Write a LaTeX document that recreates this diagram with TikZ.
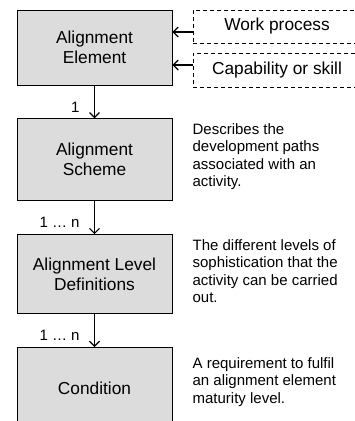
\documentclass[tikz,border=0pt]{standalone}
\usepackage{fontspec}
\setmainfont{Liberation Sans}
\usetikzlibrary{positioning,arrows.meta}
\definecolor{boxgray}{RGB}{220,220,220}

\begin{document}
\begin{tikzpicture}[x=1pt,y=-1pt,node distance=33pt,
  font=\fontsize{15}{17.5}\selectfont,
  main node/.style={rectangle,fill=boxgray,draw,minimum width=155pt,align=center,
    line width=0.8pt,font=\fontsize{17.3}{20}\selectfont},
  input node/.style={rectangle,draw,dash pattern=on 4pt off 3pt,minimum width=176pt,
    line width=0.8pt,font=\fontsize{17.3}{20}\selectfont},
  note/.style={align=left,inner sep=0pt},
  link/.style={-{Straight Barb[length=5pt,width=10pt]},line width=1.2pt}]

  \clip (0,0) rectangle (355,421);

  \node[main node,minimum height=75pt] (1) at (94.5,47.5) {Alignment\\Element};
  \node[main node,minimum height=82pt] (2) [below=of 1] {Alignment\\Scheme};
  \node[main node,minimum height=79pt] (3) [below=of 2] {Alignment Level\\Definitions};
  \node[main node,minimum height=81pt] (4) [below=of 3] {Condition};

  \node[input node,minimum height=33pt] (5) at (281,26.5) {\hspace*{-8pt}Work process};
  \node[input node,minimum height=34pt] (6) at (281,70) {\hspace*{-8pt}Capability or skill};

  \node[note] (7) [right=20pt of 2,yshift=3pt] {Describes the\\development paths\\associated with an\\activity.};
  \node[note] (8) [right=20pt of 3,yshift=3pt] {The different levels of\\sophistication that the\\activity can be carried\\out.};
  \node[note] (9) [right=20pt of 4,yshift=6pt] {A requirement to fulfil\\an alignment element\\maturity level.};

  \coordinate (a) at ([yshift=-5.5pt]5.west);
  \coordinate (b) at ([yshift=5pt]6.west);

  \draw[link] (a) -- (a -| 1.east);
  \draw[link] (b) -- (b -| 1.east);
  \draw[link] (1) -- node[left=11pt,pos=0.67] {1} (2);
  \draw[link] (2) -- node[left=11pt,pos=0.64] {1 … n} (3);
  \draw[link] (3) -- node[left=11pt,pos=0.64] {1 … n} (4);
\end{tikzpicture}
\end{document}
